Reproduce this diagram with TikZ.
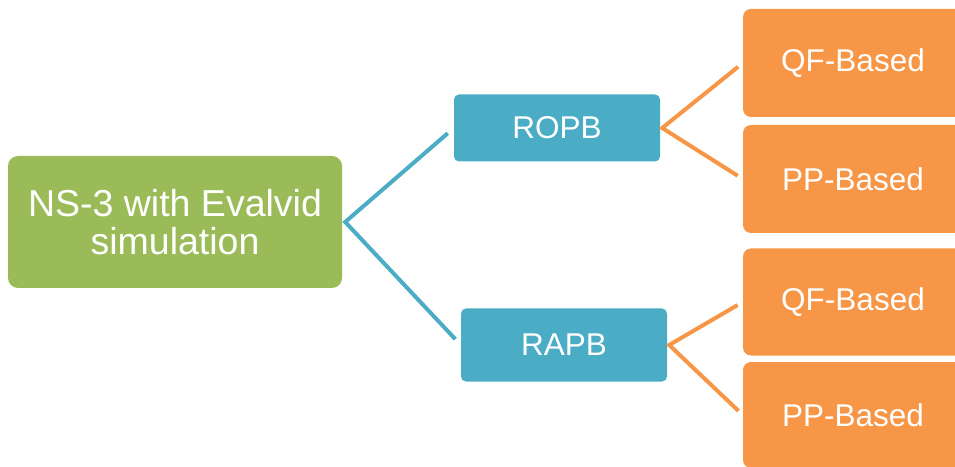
\documentclass[tikz,border=0pt]{standalone}
\usepackage{fontspec}
\setmainfont{Liberation Sans}
\usepackage{tikz}
\usetikzlibrary{positioning}

\definecolor{rootgreen}{HTML}{9BBB59}
\definecolor{midblue}{HTML}{4BACC6}
\definecolor{leaforange}{HTML}{F79646}

\begin{document}
\begin{tikzpicture}[x=1pt,y=1pt,
    box/.style={rectangle,fill,text=white,inner sep=0pt,align=center},
    root/.style={box,fill=rootgreen,rounded corners=10pt,minimum width=334pt,minimum height=132pt,font=\fontsize{37.5}{38}\selectfont},
    mid/.style={box,fill=midblue,rounded corners=5pt,minimum width=206pt,font=\fontsize{31.5}{36}\selectfont},
    leaf/.style={box,fill=leaforange,rounded corners=8pt,minimum width=220pt,font=\fontsize{31.5}{36}\selectfont},
    blueline/.style={draw=midblue,line width=4pt,shorten <=8pt,shorten >=8pt},
    orangeline/.style={draw=leaforange,line width=4pt,shorten <=6pt,shorten >=6pt}]
  \path[use as bounding box,clip] (0,0) rectangle (955,466);

  \node[root]                          (sim)  at (175,244) {NS-3 with Evalvid\\simulation};
  \node[mid,minimum height=67pt]       (ropb) at (557,338) {ROPB};
  \node[mid,minimum height=73pt]       (rapb) at (564,121) {RAPB};
  \node[leaf,minimum height=108pt]     (qf1)  at (853,403) {QF-Based};
  \node[leaf,minimum height=108pt]     (pp1)  at (853,287) {PP-Based};
  \node[leaf,minimum height=107pt]     (qf2)  at (853,164) {QF-Based};
  \node[leaf,minimum height=106pt]     (pp2)  at (853,51)  {PP-Based};

  % branches meet in a point just right of each box
  \draw[blueline]   (ropb.west) -- ([xshift=3pt]sim.east)  -- (rapb.west);
  \draw[orangeline] (qf1.west)  -- ([xshift=2pt]ropb.east) -- (pp1.west);
  \draw[orangeline] (qf2.west)  -- ([xshift=2pt]rapb.east) -- (pp2.west);
\end{tikzpicture}
\end{document}
